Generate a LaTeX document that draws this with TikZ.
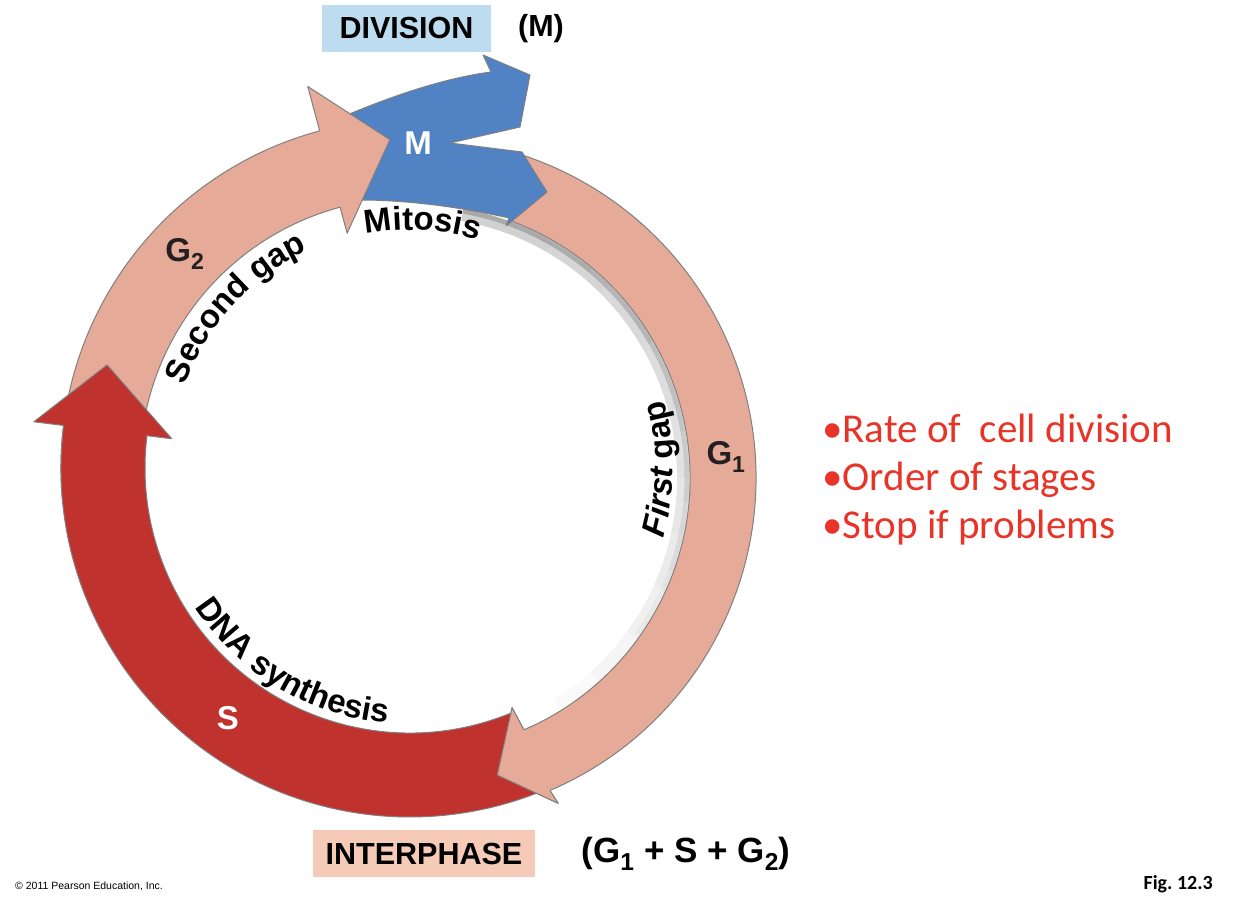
\documentclass[tikz,border=0pt]{standalone}
\usepackage{fontspec}
\setmainfont{Liberation Sans}
\newfontfamily\calibri{Carlito}
\usetikzlibrary{decorations.text}

\definecolor{gapPink}{RGB}{229,170,152}
\definecolor{synRed}{RGB}{192,50,46}
\definecolor{mitBlue}{RGB}{80,130,196}
\definecolor{divBox}{RGB}{190,220,240}
\definecolor{intBox}{RGB}{245,202,182}
\definecolor{noteRed}{RGB}{232,52,40}
\definecolor{rim}{RGB}{128,128,128}
\definecolor{ink}{RGB}{35,31,32}

\newcommand{\ringfont}{\bfseries\fontsize{33}{33}\selectfont}

\tikzset{
  phase/.style={draw=rim, line width=1pt, line join=round},
  tagbox/.style={inner sep=0pt, minimum height=47pt, font=\bfseries\fontsize{30.5}{30.5}\selectfont},
  phaselbl/.style={inner sep=0pt, font=\bfseries\fontsize{33}{33}\selectfont},
  note/.style={anchor=base west, inner sep=0pt, text=noteRed, font=\calibri\fontsize{41}{41}\selectfont},
  curved/.style={decorate, decoration={text along path, text align=center, text={|\ringfont|#1}}}
}

\begin{document}
\begin{tikzpicture}[x=1pt,y=1pt]
\useasboundingbox (0,0) rectangle (1234,900);
\coordinate (hub) at (410,432);
\coordinate (hubone) at (416,422);

% soft shadow inside the ring
\begin{scope}[shift={(hubone)}]
  \foreach \e in {60,45,30,15,0,-12,-24,-36,-48,-58}
    \draw[line width=12pt, black, opacity=0.02] (80:267) arc[start angle=80, end angle=\e, radius=267];
  \foreach \e in {50,30,10,-5,-20,-35}
    \draw[line width=5pt, black, opacity=0.035] (80:271) arc[start angle=80, end angle=\e, radius=271];
\end{scope}

% G1 arrow
\begin{scope}[shift={(hubone)}]
  \draw[phase, fill=gapPink] (70:274) arc[start angle=70, end angle=-66.8, radius=274]
    -- (-67.3:249) -- (-74.7:308) -- (-66.4:355) -- (-66.8:340)
    arc[start angle=-66.8, end angle=73, radius=340] -- cycle;
\end{scope}

% M arrow
\draw[phase, fill=mitBlue] (345,710) -- (347,785) .. controls (395,805) and (445,822) .. (491,828)
  -- (483,845) -- (530,825) -- (520,773) -- (450,757) -- (522,748) -- (547,708) -- (506,674)
  -- (509,682) .. controls (465,692) and (410,700) .. (360,700) -- cycle;

\begin{scope}[shift={(hub)}]
  % G2 arrow
  \draw[phase, fill=gapPink] (185:270) arc[start angle=185, end angle=105, radius=270]
    -- (105:243) -- (93.5:329) -- (105:395) -- (105:349)
    arc[start angle=105, end angle=185, radius=349] -- cycle;
  % S arrow
  \draw[phase, fill=synRed] (-67.5:265) arc[start angle=-67.5, end angle=-187, radius=265]
    -- (-187:240) -- (-198.8:320) -- (-187:379) -- (-187:349)
    arc[start angle=-187, end angle=-67.5, radius=349] -- cycle;
\end{scope}

% G1 head again, on top of S
\begin{scope}[shift={(hubone)}]
  \fill[gapPink] (-66.8:274) -- (-67.3:249) -- (-74.7:308) -- (-66.4:355) -- (-66.8:340) -- cycle;
  \draw[phase] (-66.8:274) -- (-67.3:249) -- (-74.7:308) -- (-66.4:355) -- (-66.8:340);
\end{scope}

% labels along the ring
\begin{scope}[shift={(hub)}]
  \path[curved={Second gap}] (170:240) arc[start angle=170, end angle=105, radius=240];
  \path[curved={Mitosis}] (112:238) arc[start angle=112, end angle=62, radius=238];
  \path[curved={DNA synthesis}] (205:256) arc[start angle=205, end angle=273, radius=256];
  \path[decorate, decoration={text along path, text align=center,
    text={|\ringfont\itshape|First|\ringfont| gap}}] (-25:263) arc[start angle=-25, end angle=24.5, radius=263];
\end{scope}

\node[phaselbl, text=white] (mlbl) at (418,757) {M};
\node[phaselbl, text=white] (slbl) at (228,182) {S};
\node[phaselbl, text=ink] (gtwo) at (185,646) {G\textsubscript{2}};
\node[phaselbl, text=ink] (gone) at (726,443) {G\textsubscript{1}};

% headings
\node[tagbox, fill=divBox, minimum width=169pt] (division) at (406.5,871.5) {DIVISION};
\node[tagbox] (mtag) at (541,871.5) {(M)};
\node[tagbox, fill=intBox, minimum width=222pt] (interphase) at (424,46.5) {INTERPHASE};
\node[tagbox, font=\bfseries\fontsize{35}{35}\selectfont] (itag) at (686,46) {(G\textsubscript{1} + S + G\textsubscript{2})};

% notes
\node[note] (rate) at (822,457) {•Rate of\ \ cell division};
\node[note] (order) at (822,409) {•Order of stages};
\node[note] (stop) at (822,361) {•Stop if problems};

\node[anchor=west, inner sep=0pt, font=\fontsize{10.5}{10.5}\selectfont] (copy) at (15,14) {© 2011 Pearson Education, Inc.};
\node[anchor=east, inner sep=0pt, font=\calibri\bfseries\fontsize{20}{20}\selectfont] (fig) at (1213,16) {Fig.\ 12.3};
\end{tikzpicture}
\end{document}
